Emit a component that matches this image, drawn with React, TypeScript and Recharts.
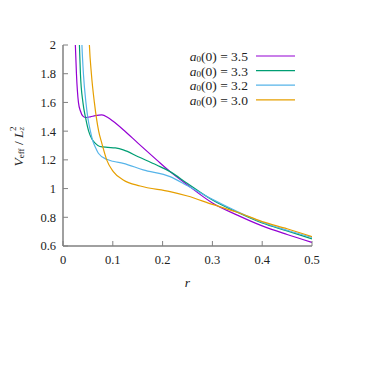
import React from 'react';
import { LineChart, Line, XAxis, YAxis } from 'recharts';

// a0(0) = 3.5
const r35 = [0.022, 0.0248, 0.027, 0.031, 0.035, 0.04, 0.046, 0.055, 0.065, 0.078, 0.09, 0.1, 0.121, 0.151, 0.188, 0.215, 0.25, 0.3, 0.35, 0.4, 0.45, 0.5];
const v35 = [2.3, 2.0, 1.8, 1.6, 1.54, 1.505, 1.495, 1.5, 1.508, 1.513, 1.495, 1.47, 1.41, 1.315, 1.2, 1.118, 1.025, 0.9, 0.815, 0.74, 0.68, 0.625];
// a0(0) = 3.3
const r33 = [0.03, 0.033, 0.035, 0.04, 0.0455, 0.0515, 0.058, 0.065, 0.074, 0.09, 0.105, 0.121, 0.151, 0.188, 0.215, 0.25, 0.3, 0.35, 0.4, 0.45, 0.5];
const v33 = [2.3, 2.0, 1.8, 1.6, 1.49, 1.4, 1.345, 1.315, 1.293, 1.287, 1.283, 1.27, 1.222, 1.164, 1.118, 1.035, 0.92, 0.835, 0.76, 0.705, 0.65];
// a0(0) = 3.2
const r32 = [0.036, 0.038, 0.041, 0.046, 0.05, 0.055, 0.06, 0.065, 0.071, 0.0877, 0.1, 0.121, 0.161, 0.215, 0.25, 0.3, 0.35, 0.4, 0.45, 0.5];
const v32 = [2.2, 2.0, 1.8, 1.6, 1.49, 1.4, 1.33, 1.287, 1.246, 1.204, 1.19, 1.176, 1.13, 1.083, 1.02, 0.925, 0.84, 0.765, 0.71, 0.66];
// a0(0) = 3.0
const r30 = [0.05, 0.053, 0.057, 0.063, 0.0716, 0.078, 0.0877, 0.101, 0.121, 0.155, 0.215, 0.25, 0.3, 0.35, 0.4, 0.45, 0.5];
const v30 = [2.3, 2.0, 1.8, 1.6, 1.4, 1.315, 1.2, 1.118, 1.06, 1.018, 0.979, 0.948, 0.89, 0.835, 0.77, 0.72, 0.665];

const seriesNames = ['3.5', '3.3', '3.2', '3.0'];
const seriesColors = ['#9400d3', '#009e73', '#56b4e9', '#e69f00'];
const seriesR = [r35, r33, r32, r30];
const seriesV = [v35, v33, v32, v30];

const xTicks = [0, 0.1, 0.2, 0.3, 0.4, 0.5];
const yTicks = [0.6, 0.8, 1, 1.2, 1.4, 1.6, 1.8, 2];

const FONT = "'Liberation Serif', 'DejaVu Serif', serif";
const AXIS = '#808080';

const series = seriesNames.map((name, i) => ({
  name,
  color: seriesColors[i],
  data: seriesR[i].map((r, j) => ({ r, v: seriesV[i][j] })),
}));

const LegendBox = () => (
  <svg
    width={150}
    height={70}
    style={{ position: 'absolute', left: 170, top: 41, overflow: 'visible', fontFamily: FONT }}
  >
    {series.map((s, i) => {
      const cy = 7 + i * 14.6;
      return (
        <g key={s.name}>
          <text x={70} y={cy} textAnchor="end" dominantBaseline="central" style={{ fontFamily: FONT }} fontSize={13.5} fill="#222">
            <tspan fontStyle="italic">a</tspan>
            <tspan fontSize={9} dy={3}>0</tspan>
            <tspan dy={-3}>{`(0) = ${s.name}`}</tspan>
          </text>
          <line x1={78} x2={117} y1={cy} y2={cy} stroke={s.color} strokeWidth={1.2} />
        </g>
      );
    })}
  </svg>
);

const YLabel = (props: any) => {
  const vb = props.viewBox || { x: 0, y: 0, width: 0, height: 0 };
  const cx = vb.x;
  const cy = vb.y + vb.height / 2 + 1;
  return (
    <text x={cx} y={cy} transform={`rotate(-90, ${cx}, ${cy})`} textAnchor="middle" dominantBaseline="central" style={{ fontFamily: FONT }} fontSize={13.5} fill="#222">
      <tspan fontStyle="italic">V</tspan>
      <tspan fontSize={9} dy={3}>eff</tspan>
      <tspan dy={-3}>{' / '}</tspan>
      <tspan fontStyle="italic">L</tspan>
      <tspan fontSize={9} fontStyle="italic" dy={3}>z</tspan>
      <tspan fontSize={9} dx={-4} dy={-8}>2</tspan>
    </text>
  );
};

const XLabel = (props: any) => {
  const vb = props.viewBox || { x: 0, y: 0, width: 0, height: 0 };
  return (
    <text x={vb.x + vb.width / 2} y={vb.y + 36} textAnchor="middle" dominantBaseline="central" style={{ fontFamily: FONT }} fontStyle="italic" fontSize={13.5} fill="#222">
      r
    </text>
  );
};

const tickStyle = { fontFamily: FONT, fontSize: 12.5, fill: '#222', style: { fontFamily: FONT } };

export default function App() {
  return (
    <div style={{ width: 366, height: 300, position: 'relative', fontFamily: FONT }}>
      <LineChart width={366} height={300} margin={{ top: 37, right: 62, left: 10, bottom: 32 }} style={{ fontFamily: FONT, overflow: 'visible' }}>
        <XAxis
          xAxisId="b"
          dataKey="r"
          type="number"
          domain={[0, 0.5]}
          ticks={xTicks}
          allowDataOverflow
          height={30}
          tickSize={-5}
          tickMargin={14}
          tick={tickStyle}
          tickFormatter={(v: number) => String(v)}
          axisLine={{ stroke: AXIS, strokeWidth: 1.5 }}
          tickLine={{ stroke: AXIS }}
          label={<XLabel />}
        />
        <XAxis
          xAxisId="t"
          orientation="top"
          dataKey="r"
          type="number"
          domain={[0, 0.5]}
          ticks={xTicks}
          allowDataOverflow
          height={0}
          tickSize={-5}
          tickFormatter={() => ''}
          axisLine={{ stroke: AXIS, strokeWidth: 1.2 }}
          tickLine={{ stroke: AXIS }}
        />
        <YAxis
          yAxisId="l"
          type="number"
          domain={[0.6, 2]}
          ticks={yTicks}
          allowDataOverflow
          width={45}
          tickSize={-5}
          tickMargin={12}
          tick={tickStyle}
          tickFormatter={(v: number) => String(v)}
          axisLine={{ stroke: AXIS, strokeWidth: 1.5 }}
          tickLine={{ stroke: AXIS }}
          label={<YLabel />}
        />
        <YAxis
          yAxisId="r"
          orientation="right"
          type="number"
          domain={[0.6, 2]}
          ticks={yTicks}
          allowDataOverflow
          width={0}
          tickSize={-5}
          tickFormatter={() => ''}
          axisLine={{ stroke: AXIS, strokeWidth: 1.2 }}
          tickLine={{ stroke: AXIS }}
        />
        {series.map((s) => (
          <Line
            key={s.name}
            xAxisId="b"
            yAxisId="l"
            data={s.data}
            dataKey="v"
            name={s.name}
            type="monotone"
            stroke={s.color}
            strokeWidth={1.2}
            dot={false}
            activeDot={false}
            isAnimationActive={false}
          />
        ))}
      </LineChart>
      <LegendBox />
    </div>
  );
}
